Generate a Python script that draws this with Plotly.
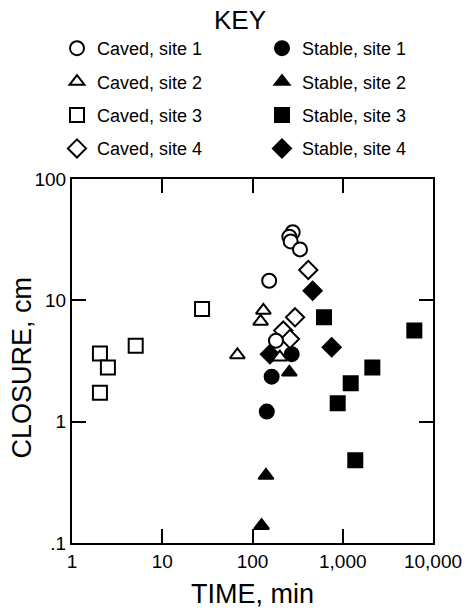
import plotly.graph_objects as go

# ---- data ----
caved1_x = [279, 256, 265, 336, 153, 182]
caved1_y = [36.4, 33.5, 30.6, 26.3, 14.5, 4.65]
caved2_x = [68, 132, 123, 201]
caved2_y = [3.55, 8.25, 6.7, 3.4]
caved3_x = [2.04, 2.5, 2.04, 5.08, 27.6]
caved3_y = [3.64, 2.79, 1.73, 4.23, 8.5]
caved4_x = [415, 296, 219, 260]
caved4_y = [17.8, 7.25, 5.63, 4.8]

stable1_x = [272, 163, 144]
stable1_y = [3.6, 2.35, 1.21]
stable2_x = [256, 141, 126]
stable2_y = [2.55, 0.36, 0.139]
stable3_x = [620, 6210, 2127, 1225, 879, 1377]
stable3_y = [7.25, 5.63, 2.8, 2.07, 1.42, 0.48]
stable4_x = [464, 754, 156]
stable4_y = [12.0, 4.1, 3.6]

x_tickvals = [1, 10, 100, 1000, 10000]
x_ticktext = ["1", "10", "100", "1,000", "10,000"]
y_tickvals = [0.1, 1, 10, 100]
y_ticktext = [".1", "1", "10", "100"]

FONT = "Liberation Sans, Arial, Helvetica, sans-serif"

fig = go.Figure()

def add(name, xs, ys, symbol, filled, legend, rank, size=14):
    fig.add_trace(go.Scatter(
        x=xs, y=ys, mode="markers", name=name,
        marker=dict(symbol=symbol, size=size,
                    color="black" if filled else "white",
                    line=dict(color="black", width=2)),
        legend=legend, legendrank=rank, legendgroup=name,
    ))

# draw order: stable first, caved on top
add("Stable, site 3", stable3_x, stable3_y, "square", True, "legend2", 3)
add("Stable, site 4", stable4_x, stable4_y, "diamond", True, "legend2", 4)
add("Stable, site 1", stable1_x, stable1_y, "circle", True, "legend2", 1)
add("Stable, site 2", stable2_x, stable2_y, "triangle-up", True, "legend2", 2, 13)
add("Caved, site 3", caved3_x, caved3_y, "square", False, "legend", 3)
add("Caved, site 4", caved4_x, caved4_y, "diamond", False, "legend", 4)
add("Caved, site 1", caved1_x, caved1_y, "circle", False, "legend", 1)
add("Caved, site 2", caved2_x, caved2_y, "triangle-up", False, "legend", 2, 13)

axis_common = dict(
    type="log", showgrid=False, zeroline=False,
    ticks="inside", ticklen=14, tickwidth=2, tickcolor="black",
    showline=True, linewidth=2, linecolor="black", mirror="ticks",
    tickfont=dict(family=FONT, size=19, color="black"),
    automargin=False,
)

legend_common = dict(
    xref="container", yref="container", xanchor="left", yanchor="top",
    orientation="v", font=dict(family=FONT, size=18, color="black"),
    tracegroupgap=7, bgcolor="rgba(0,0,0,0)", borderwidth=0,
)

fig.update_layout(
    width=466, height=611,
    margin=dict(l=72, r=33, t=179, b=68, autoexpand=False),
    paper_bgcolor="white", plot_bgcolor="white",
    font=dict(family=FONT, color="black"),
    title=dict(text="KEY", x=240 / 466, xanchor="center", xref="container",
               y=1 - 11 / 611, yanchor="top", yref="container",
               font=dict(family=FONT, size=26, color="black")),
    xaxis=dict(axis_common, range=[0, 4], tickvals=x_tickvals, ticktext=x_ticktext,
               title=dict(text="TIME, min", font=dict(family=FONT, size=27, color="black"),
                          standoff=13)),
    yaxis=dict(axis_common, range=[-1, 2], tickvals=y_tickvals, ticktext=y_ticktext),
    legend=dict(legend_common, x=57 / 466, y=1 - 30 / 611),
    legend2=dict(legend_common, x=262 / 466, y=1 - 30 / 611),
    showlegend=True,
    annotations=[dict(
        text="CLOSURE, cm", textangle=-90, showarrow=False,
        xref="paper", yref="paper", x=-50 / 361, y=0.482,
        xanchor="center", yanchor="middle",
        font=dict(family=FONT, size=27, color="black"),
    )],
)

fig.write_html("out.html",
               config={"displayModeBar": False},
               post_script="document.body.style.margin='0';document.body.style.padding='0';")
